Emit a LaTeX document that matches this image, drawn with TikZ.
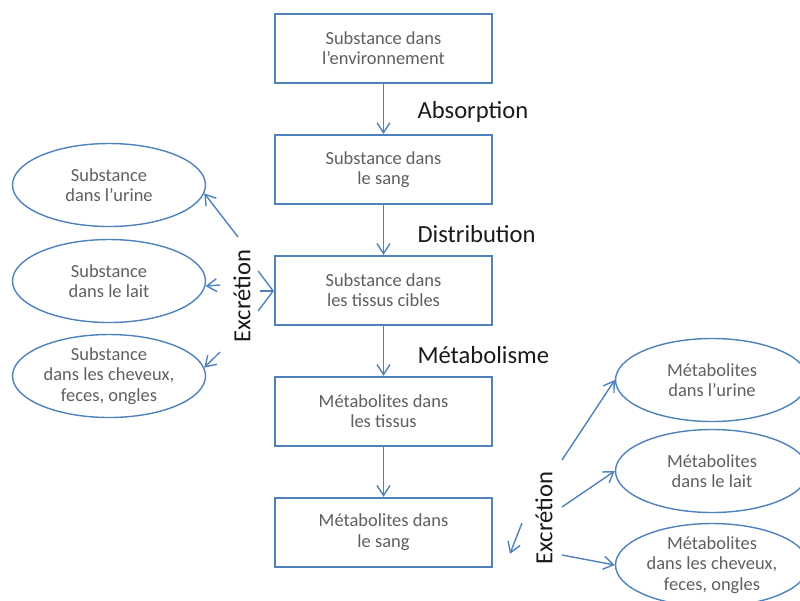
\documentclass[tikz,border=0pt]{standalone}
\usepackage{fontspec}
\setmainfont{Carlito}
\usetikzlibrary{shapes.geometric, arrows.meta, positioning}
\definecolor{Ink}{HTML}{1A1A1A}
\definecolor{Dim}{HTML}{5F5F5F}
\definecolor{Frame}{HTML}{4F81BD}

\begin{document}
\begin{tikzpicture}[
            node distance=1cm,
            stage/.style={
                rectangle,
                draw=Frame,
                fill=white,
                line width=1.1pt,
                minimum height=1.38cm,
                minimum width=4.34cm,
                align=center,
                font=\fontsize{10.5}{11.5}\selectfont,
                text=Dim
            },
            pool/.style={
                ellipse,
                draw=Frame,
                line width=0.8pt,
                minimum width=3.86cm,
                minimum height=1.66cm,
                inner sep=0pt,
                align=center,
                font=\fontsize{10.5}{11.5}\selectfont,
                text=Dim
            },
            link/.style={-{Straight Barb[length=2mm,width=2.6mm]}, line width=0.8pt, color=Frame},
            biglink/.style={-{Straight Barb[length=3mm,width=8mm]}, line width=0.8pt, color=Frame},
            process/.style={font=\fontsize{14}{16}\selectfont, text=Ink}
        ]
            \useasboundingbox (0,0) rectangle (16,-12);

            \node[stage] (env) at (7.67,-0.97) {Substance dans\\l'environnement};
            \node[stage, below=of env] (blood) {Substance dans\\le sang};
            \node[stage, below=of blood] (tissue) {Substance dans\\les tissus cibles};
            \node[stage, below=of tissue] (mtissue) {Métabolites dans\\les tissus};
            \node[stage, below=of mtissue] (mblood) {Métabolites dans\\le sang};

            % Main flow
            \draw[link] (env) -- node[process, right=0.55cm, yshift=-0.06cm]{Absorption} (blood);
            \draw[link] (blood) -- node[process, right=0.55cm, yshift=-0.08cm]{Distribution} (tissue);
            \draw[link] (tissue) -- node[process, right=0.55cm, yshift=-0.08cm]{Métabolisme} (mtissue);
            \draw[link] (mtissue) -- (mblood);

            % Excretion of the substance
            \node[pool] (surine) at (2.18,-3.70) {Substance\\dans l'urine};
            \node[pool] (smilk) at (2.18,-5.62) {Substance\\dans le lait};
            \node[pool] (shair) at (2.18,-7.52) {Substance\\dans les cheveux,\\feces, ongles};
            \node[process, rotate=90] (sexcr) at (4.84,-5.92) {Excrétion};

            \coordinate (ls1) at (4.76,-4.74);
            \coordinate (ls2) at (4.40,-5.70);
            \coordinate (ls3) at (4.40,-7.04);
            \coordinate (lsb) at (5.20,-5.82);
            \draw[link] (ls1) -- (surine.-5);
            \draw[link] (ls2) -- (smilk.-3);
            \draw[link] (ls3) -- (shair.5);
            \draw[biglink] (lsb) -- (lsb -| tissue.west);

            % Excretion of the metabolites
            \node[pool] (murine) at (14.24,-7.6) {Métabolites\\dans l'urine};
            \node[pool] (mmilk) at (14.24,-9.42) {Métabolites\\dans le lait};
            \node[pool] (mhair) at (14.24,-11.3) {Métabolites\\dans les cheveux,\\feces, ongles};
            \node[process, rotate=90] (mexcr) at (10.88,-10.36) {Excrétion};

            \coordinate (rs0) at (10.44,-10.46);
            \coordinate (rs1) at (11.24,-9.20);
            \coordinate (rs2) at (11.24,-10.14);
            \coordinate (rs3) at (11.24,-11.10);
            \draw[link] (rs0) -- ([xshift=0.34cm,yshift=-0.43cm]mblood.east);
            \draw[link] (rs1) -- (murine.west);
            \draw[link] (rs2) -- (mmilk.west);
            \draw[link] (rs3) -- (mhair.west);
        \end{tikzpicture}
\end{document}
